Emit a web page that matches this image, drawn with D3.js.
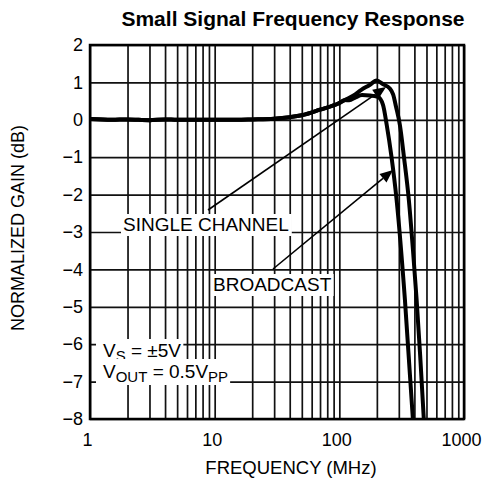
<!DOCTYPE html>
<html>
<head>
<meta charset="utf-8">
<script src="https://cdn.jsdelivr.net/npm/d3@7"></script>
<style>
  body { margin: 0; background: #fff; }
  svg { display: block; font-family: "Liberation Sans", Arial, sans-serif; }
</style>
</head>
<body>
<svg id="chart" width="482" height="491"></svg>
<script>
// ---- data ----
const xTickValues = [1, 10, 100, 1000];
const yTickValues = [2, 1, 0, -1, -2, -3, -4, -5, -6, -7, -8];

const singleFreq = [1, 1.5, 2, 3, 4, 5, 7, 10, 15, 20, 30, 40, 50, 70, 100, 111, 130, 150, 175, 199, 225, 254, 270, 285, 306, 330, 361, 390, 417, 445, 476];
const singleGain = [0.02, 0.0, 0.01, -0.01, 0.01, 0.0, 0.0, 0.0, 0.0, 0.01, 0.03, 0.07, 0.12, 0.27, 0.45, 0.53, 0.65, 0.8, 0.93, 1.05, 0.95, 0.84, 0.68, 0.35, -0.14, -1.0, -2.14, -3.5, -4.82, -6.3, -8];

const broadFreq = [1, 1.5, 2, 3, 4, 5, 7, 10, 15, 20, 30, 40, 50, 70, 100, 111, 120, 135, 152, 175, 204, 224, 240, 262, 288, 336, 389];
const broadGain = [0.02, 0.0, 0.01, -0.01, 0.01, 0.0, 0.0, 0.0, 0.0, 0.01, 0.03, 0.07, 0.12, 0.27, 0.45, 0.53, 0.52, 0.6, 0.66, 0.65, 0.61, 0.4, -0.14, -0.99, -2.14, -4.82, -8];

// ---- layout ----
const svg = d3.select("#chart");
const L = 90, R = 464, T = 45, B = 419;
const x = d3.scaleLog().domain([1, 1000]).range([L, R]);
const y = d3.scaleLinear().domain([-8, 2]).range([B, T]);

const gridX = [];
for (let k = 0; k < 3; k++) for (let m = 1; m < 10; m++) gridX.push(m * Math.pow(10, k));
gridX.push(1000);

// grid through axes
svg.append("g").attr("transform", `translate(0,${B})`)
  .call(d3.axisBottom(x).tickValues(gridX).tickSize(-(B - T)).tickFormat(""))
  .call(g => g.select(".domain").remove())
  .call(g => g.selectAll("line").attr("stroke", "#111").attr("stroke-width", 1.7));
svg.append("g").attr("transform", `translate(${L},0)`)
  .call(d3.axisLeft(y).tickValues(yTickValues).tickSize(-(R - L)).tickFormat(""))
  .call(g => g.select(".domain").remove())
  .call(g => g.selectAll("line").attr("stroke", "#111").attr("stroke-width", 1.7));

// tick labels
svg.append("g").attr("transform", `translate(0,${B})`)
  .call(d3.axisBottom(x).tickValues(xTickValues).tickSize(0).tickPadding(14).tickFormat(d3.format("d")))
  .call(g => g.select(".domain").remove())
  .call(g => g.selectAll("text").attr("font-size", 18).attr("font-family", "Liberation Sans, Arial, sans-serif").attr("fill", "#000").attr("dx", -3));
svg.append("g").attr("transform", `translate(${L},0)`)
  .call(d3.axisLeft(y).tickValues(yTickValues).tickSize(0).tickPadding(7).tickFormat(d3.format("d")))
  .call(g => g.select(".domain").remove())
  .call(g => g.selectAll("text").attr("font-size", 18).attr("font-family", "Liberation Sans, Arial, sans-serif").attr("fill", "#000"));

// annotation labels with white backing
function label(tx, ty, parts, pad) {
  const g = svg.append("g");
  const rect = g.append("rect").attr("fill", "#fff");
  const t = g.append("text").attr("x", tx).attr("y", ty).attr("font-size", 19).attr("fill", "#000");
  parts.forEach(p => {
    const s = t.append("tspan").text(p.t);
    if (p.sub) s.attr("font-size", 15).attr("dy", 4);
    else if (p.back) s.attr("dy", -4);
  });
  const bb = t.node().getBBox();
  rect.attr("x", bb.x - pad[0]).attr("y", bb.y - pad[1]).attr("width", bb.width + pad[0] + pad[2]).attr("height", bb.height + pad[1] + pad[3]);
  return g;
}
label(123, 231, [{t: "SINGLE CHANNEL"}], [2, 0, 3, 1]);
label(213, 291, [{t: "BROADCAST"}], [2, 0, 2, 1]);
label(103, 357, [{t: "V"}, {t: "S", sub: true}, {t: " = ±5V", back: true}], [7, 1, 2, 0]);
label(103, 378, [{t: "V"}, {t: "OUT", sub: true}, {t: " = 0.5V", back: true}, {t: "PP", sub: true}], [7, 2, 2, 0]);

// curves
svg.append("clipPath").attr("id", "clip").append("rect").attr("x", L).attr("y", T).attr("width", R - L).attr("height", B - T);
const line = d3.line().x(d => x(d[0])).y(d => y(d[1])).curve(d3.curveMonotoneX);
const plot = svg.append("g").attr("clip-path", "url(#clip)");
plot.append("path").datum(d3.zip(singleFreq, singleGain)).attr("d", line)
  .attr("fill", "none").attr("stroke", "#000").attr("stroke-width", 4).attr("stroke-linejoin", "round");
plot.append("path").datum(d3.zip(broadFreq, broadGain)).attr("d", line)
  .attr("fill", "none").attr("stroke", "#000").attr("stroke-width", 4).attr("stroke-linejoin", "round");

// arrows
function arrow(x1, y1, x2, y2) {
  const ang = Math.atan2(y2 - y1, x2 - x1);
  const len = 13, w = 5.5;
  const bx = x2 - len * Math.cos(ang), by = y2 - len * Math.sin(ang);
  svg.append("line").attr("x1", x1).attr("y1", y1).attr("x2", bx).attr("y2", by)
    .attr("stroke", "#000").attr("stroke-width", 1.6);
  const px = -Math.sin(ang) * w, py = Math.cos(ang) * w;
  svg.append("path").attr("d", `M${x2},${y2}L${bx + px},${by + py}L${bx - px},${by - py}Z`).attr("fill", "#000");
}
arrow(208, 210, 386, 87);
arrow(273, 269, 393, 170);

// frame
svg.append("rect").attr("x", L).attr("y", T).attr("width", R - L).attr("height", B - T)
  .attr("fill", "none").attr("stroke", "#000").attr("stroke-width", 2.5);

// titles
svg.append("text").attr("x", 293).attr("y", 26).attr("text-anchor", "middle")
  .attr("font-size", 21).attr("font-weight", "bold").text("Small Signal Frequency Response");
svg.append("text").attr("x", 291).attr("y", 474).attr("text-anchor", "middle")
  .attr("font-size", 18.5).text("FREQUENCY (MHz)");
svg.append("text").attr("transform", "translate(24,228) rotate(-90)").attr("text-anchor", "middle")
  .attr("font-size", 18).text("NORMALIZED GAIN (dB)");
</script>
</body>
</html>
